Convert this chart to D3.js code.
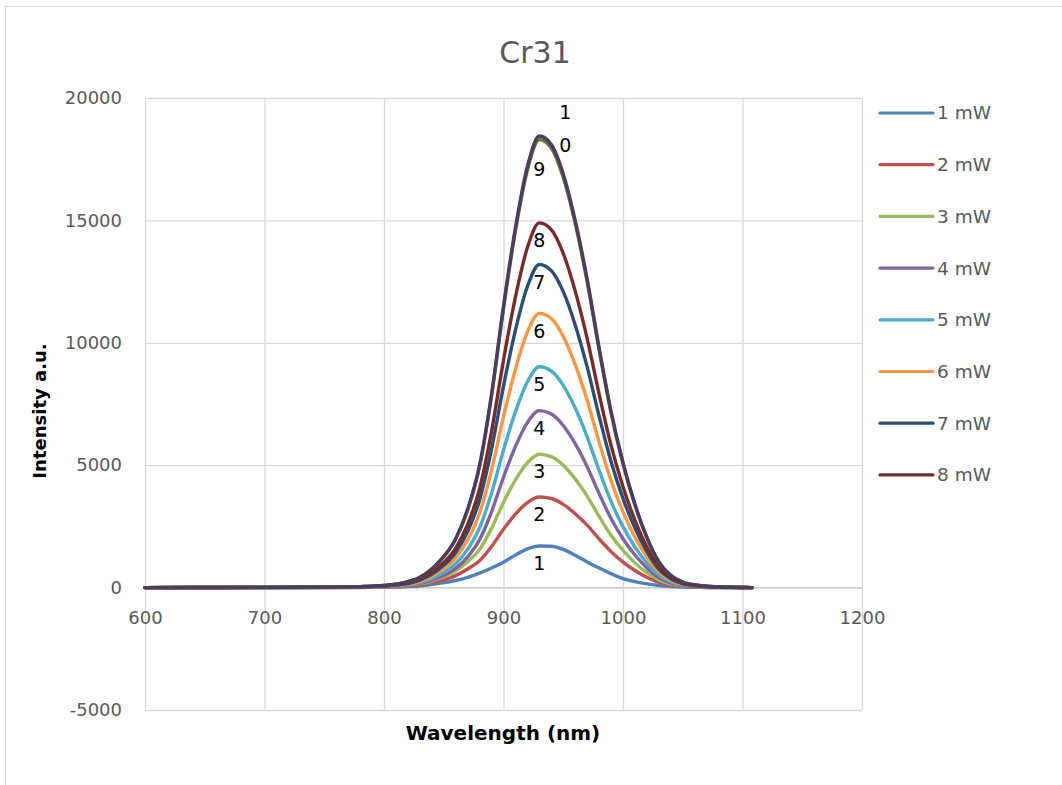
<!DOCTYPE html>
<html lang="en">
<head>
<meta charset="UTF-8">
<title>Cr31</title>
<script src="https://d3js.org/d3.v7.min.js"></script>
<style>
    body { margin: 0; background: #fff; }
    text { font-family: "DejaVu Sans", sans-serif; }
</style>
</head>
<body>

<div id="chart"></div>

<script>
    // Wavelength sample points (nm), shared by every series
    const wavelengths = [600, 650, 700, 750, 780, 800, 815, 830, 845, 860, 870, 880, 890, 900, 910, 920,
                         930, 940, 950, 960, 970, 980, 990, 1000, 1010, 1020, 1030, 1040, 1050, 1065, 1080, 1095, 1108];

    // Intensity values, one array per laser power
    const s1  = [0,1,2,3,6,12,28,70,165,290,420,590,800,1040,1330,1580,1700,1690,1560,1320,1050,800,570,370,245,150,85,45,22,8,3,1,0];
    const s2  = [0,1,3,5,10,20,42,105,250,490,760,1100,1680,2380,3000,3470,3700,3640,3400,3020,2550,1990,1470,1040,700,420,215,105,48,17,6,2,0];
    const s3  = [0,2,4,7,14,28,60,150,350,680,1060,1560,2420,3480,4400,5100,5450,5350,5000,4440,3740,2910,2140,1520,1010,610,315,150,70,24,9,3,0];
    const s4  = [0,2,4,8,16,33,71,165,392,784,1254,1959,3095,4507,5762,6740,7230,7092,6622,5878,4938,3840,2822,1996,1330,804,411,196,90,31,12,4,0];
    const s5  = [0,2,5,10,20,42,88,206,489,978,1564,2444,3862,5623,7188,8409,9020,8848,8262,7333,6160,4791,3520,2490,1660,1003,513,245,113,39,15,5,0];
    const s6  = [0,3,6,12,24,52,110,255,607,1214,1942,3035,4795,6980,8925,10440,11200,10990,10260,9105,7650,5950,4370,3090,2060,1245,637,304,140,48,18,6,0];
    const s7  = [0,4,7,15,29,61,129,301,715,1431,2289,3578,5652,8228,10520,12300,13200,12950,12090,10730,9015,7010,5150,3643,2430,1467,750,358,165,57,21,7,0];
    const s8  = [0,4,8,16,33,69,146,340,808,1615,2584,4038,6380,9290,11870,13890,14900,14620,13650,12110,10180,7910,5810,4120,2750,1660,850,404,186,65,24,8,0];
    const s9  = [0,5,10,20,40,84,179,417,992,1984,3174,4960,7840,11400,14580,17060,18300,17950,16760,14880,12500,9720,7140,5060,3370,2030,1040,496,228,79,30,10,0];
    const s10 = [0,5,10,20,40,85,180,420,1000,2000,3200,5000,7900,11500,14700,17200,18450,18100,16900,15000,12600,9800,7200,5100,3400,2050,1050,500,230,80,30,10,0];

    const seriesValues = [s1, s2, s3, s4, s5, s6, s7, s8, s9, s10];
    const seriesNames  = ["1 mW", "2 mW", "3 mW", "4 mW", "5 mW", "6 mW", "7 mW", "8 mW", "9 mW", "10 mW"];
    const pointLabels  = ["1", "2", "3", "4", "5", "6", "7", "8", "9", "10"];
    const legendCount  = 8;   // the legend in the picture only shows the first 8 entries

    const xTicks = [600, 700, 800, 900, 1000, 1100, 1200];
    const yTicks = [-5000, 0, 5000, 10000, 15000, 20000];

    const colors = ["#4F81BD", "#C0504D", "#9BBB59", "#8064A2", "#4BACC6",
                    "#F79646", "#2C4D75", "#772C2A", "#5F7530", "#4D3B62"];

    // layout
    const W = 1062, H = 785;
    const margin = {top: 98, left: 145};
    const plotW = 717, plotH = 612;

    const svg = d3.select("#chart").append("svg")
        .attr("width", W)
        .attr("height", H);

    // chart outer border
    svg.append("rect")
        .attr("x", 5.5).attr("y", 6.5)
        .attr("width", 1100).attr("height", 900)
        .attr("fill", "none")
        .attr("stroke", "#d9d9d9");

    const x = d3.scaleLinear().domain([600, 1200]).range([margin.left, margin.left + plotW]);
    const y = d3.scaleLinear().domain([-5000, 20000]).range([margin.top + plotH, margin.top]);

    // gridlines
    svg.append("g")
        .attr("transform", `translate(0,${margin.top + plotH})`)
        .call(d3.axisBottom(x).tickValues(xTicks).tickSize(-plotH).tickFormat(""))
        .call(g => g.select(".domain").remove())
        .call(g => g.selectAll("line").attr("stroke", "#d9d9d9").attr("stroke-width", 1.3));

    svg.append("g")
        .attr("transform", `translate(${margin.left},0)`)
        .call(d3.axisLeft(y).tickValues(yTicks).tickSize(-plotW).tickFormat(""))
        .call(g => g.select(".domain").remove())
        .call(g => g.selectAll("line").attr("stroke", "#d9d9d9").attr("stroke-width", 1.3));

    // zero line (horizontal axis crosses at 0)
    svg.append("line")
        .attr("x1", x(600)).attr("x2", x(1200))
        .attr("y1", y(0)).attr("y2", y(0))
        .attr("stroke", "#d0d0d0").attr("stroke-width", 1.3);

    // tick labels
    svg.append("g")
        .attr("transform", `translate(0,${y(0)})`)
        .call(d3.axisBottom(x).tickValues(xTicks).tickSize(0).tickPadding(24).tickFormat(d => String(d)))
        .call(g => g.select(".domain").remove())
        .call(g => g.selectAll("text")
            .attr("fill", "#595959")
            .style("font-size", "18px")
            .style("font-family", "DejaVu Sans"));

    svg.append("g")
        .attr("transform", `translate(${margin.left},0)`)
        .call(d3.axisLeft(y).tickValues(yTicks).tickSize(0).tickPadding(23).tickFormat(d => String(d)))
        .call(g => g.select(".domain").remove())
        .call(g => g.selectAll("text")
            .attr("fill", "#595959")
            .style("font-size", "18px")
            .style("font-family", "DejaVu Sans"));

    // series lines
    const line = d3.line()
        .x((d, i) => x(wavelengths[i]))
        .y(d => y(d))
        .curve(d3.curveMonotoneX);

    svg.append("g").selectAll("path")
        .data(seriesValues)
        .join("path")
            .attr("d", d => line(d))
            .attr("fill", "none")
            .attr("stroke", (d, i) => colors[i])
            .attr("stroke-width", 3.4)
            .attr("stroke-linejoin", "round")
            .attr("stroke-linecap", "round");

    // data labels at the peak of each series
    const labels = svg.append("g");
    seriesValues.forEach((vals, i) => {
        const peak = d3.maxIndex(vals);
        const px = x(wavelengths[peak]);
        const py = y(vals[peak]);
        if (i === 9) {
            // "10" wraps onto two lines, placed to the right
            const t = labels.append("text")
                .attr("text-anchor", "middle")
                .attr("fill", "#000")
                .style("font-size", "19px");
            t.append("tspan").attr("x", px + 26).attr("y", py - 24).attr("dy", "0.35em").text(pointLabels[i][0]);
            t.append("tspan").attr("x", px + 26).attr("y", py + 9).attr("dy", "0.35em").text(pointLabels[i][1]);
        } else {
            labels.append("text")
                .attr("x", px)
                .attr("y", py + (i === 8 ? 30 : 17.5))
                .attr("dy", "0.35em")
                .attr("text-anchor", "middle")
                .attr("fill", "#000")
                .style("font-size", "19px")
                .text(pointLabels[i]);
        }
    });

    // title
    svg.append("text")
        .attr("x", 535).attr("y", 52)
        .attr("dy", "0.35em")
        .attr("text-anchor", "middle")
        .attr("fill", "#595959")
        .style("font-size", "30px")
        .text("Cr31");

    // axis titles
    svg.append("text")
        .attr("x", 503).attr("y", 733)
        .attr("dy", "0.35em")
        .attr("text-anchor", "middle")
        .attr("fill", "#000")
        .style("font-size", "20px")
        .style("font-weight", "bold")
        .text("Wavelength (nm)");

    svg.append("text")
        .attr("transform", "translate(40,411) rotate(-90)")
        .attr("dy", "0.35em")
        .attr("text-anchor", "middle")
        .attr("fill", "#000")
        .style("font-size", "18px")
        .style("font-weight", "bold")
        .text("Intensity a.u.");

    // legend
    const legend = svg.append("g")
        .selectAll("g")
        .data(seriesNames.slice(0, legendCount))
        .join("g")
            .attr("transform", (d, i) => `translate(880,${113 + i * 51.7})`);

    legend.append("line")
        .attr("x1", 0).attr("x2", 53)
        .attr("stroke", (d, i) => colors[i])
        .attr("stroke-width", 3.2)
        .attr("stroke-linecap", "round");

    legend.append("text")
        .attr("x", 57)
        .attr("dy", "0.35em")
        .attr("fill", "#595959")
        .style("font-size", "18.5px")
        .text(d => d);
</script>

</body>
</html>
